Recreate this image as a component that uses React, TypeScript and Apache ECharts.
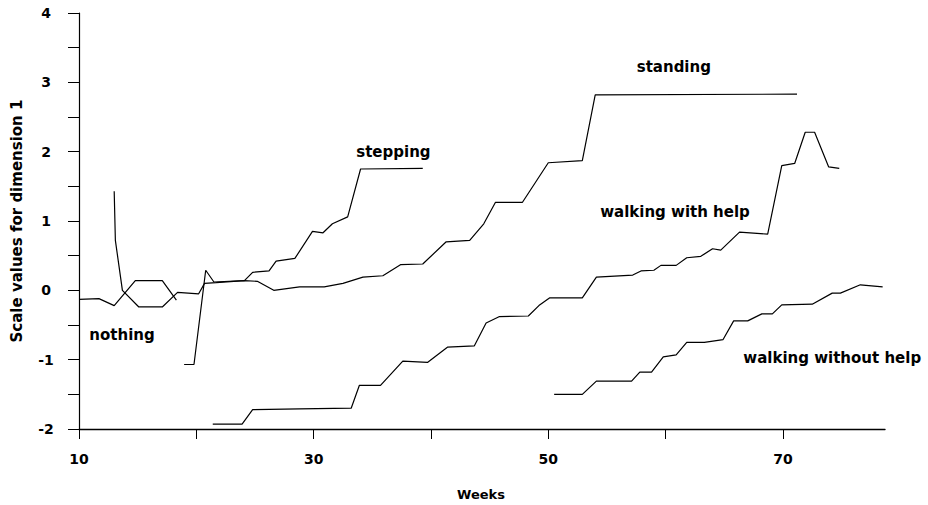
import React, { useEffect, useRef } from "react";
import * as echarts from "echarts";

// ---- data ----
const nothingWeeks = [10, 11.7, 13.0, 14.8, 17.1, 18.3];
const nothingValues = [-0.13, -0.12, -0.22, 0.14, 0.14, -0.14];

const standingWeeks = [13.0, 13.1, 13.7, 15.1, 17.1, 18.4, 20.2, 20.7, 21.7, 24.1, 25.2, 26.6, 28.8, 30.9, 32.5, 34.2, 35.9, 37.4, 39.3, 41.3, 43.3, 44.5, 45.5, 47.8, 50.0, 52.9, 54.0, 71.2];
const standingValues = [1.43, 0.72, 0.0, -0.24, -0.24, -0.03, -0.05, 0.1, 0.11, 0.14, 0.13, 0.0, 0.05, 0.05, 0.1, 0.19, 0.21, 0.37, 0.38, 0.7, 0.72, 0.96, 1.27, 1.27, 1.84, 1.87, 2.82, 2.83];

const steppingWeeks = [18.96, 19.8, 20.8, 21.5, 24.1, 24.8, 26.2, 26.8, 28.4, 29.9, 30.8, 31.6, 32.9, 34.0, 39.3];
const steppingValues = [-1.07, -1.07, 0.29, 0.12, 0.14, 0.26, 0.28, 0.42, 0.46, 0.85, 0.83, 0.96, 1.06, 1.75, 1.76];

const withHelpWeeks = [21.4, 23.9, 24.8, 28.8, 33.2, 33.9, 35.7, 37.6, 39.7, 41.4, 43.7, 44.7, 45.8, 48.3, 49.2, 50.1, 52.9, 54.1, 57.2, 57.9, 59.0, 59.6, 60.9, 61.8, 63.0, 64.0, 64.7, 66.3, 68.7, 69.9, 71.0, 71.9, 72.7, 73.9, 74.8];
const withHelpValues = [-1.93, -1.93, -1.72, -1.71, -1.7, -1.37, -1.37, -1.02, -1.04, -0.82, -0.8, -0.47, -0.38, -0.37, -0.22, -0.11, -0.11, 0.19, 0.22, 0.28, 0.29, 0.36, 0.36, 0.47, 0.49, 0.6, 0.58, 0.84, 0.81, 1.8, 1.83, 2.28, 2.28, 1.78, 1.76];

const withoutHelpWeeks = [50.5, 52.9, 54.1, 57.1, 57.8, 58.8, 59.8, 60.9, 61.8, 63.3, 64.9, 65.8, 67.0, 68.2, 69.1, 69.9, 72.5, 74.2, 74.9, 76.6, 78.5];
const withoutHelpValues = [-1.5, -1.5, -1.31, -1.31, -1.18, -1.18, -0.96, -0.93, -0.75, -0.75, -0.71, -0.44, -0.44, -0.34, -0.34, -0.21, -0.2, -0.04, -0.04, 0.08, 0.05];

const labelTexts = ["nothing", "stepping", "standing", "walking with help", "walking without help"];
const labelWeeks = [13.67, 36.8, 60.7, 60.8, 74.2];
const labelValues = [-0.65, 1.99, 3.22, 1.13, -0.98];

const xTickLabels = [10, 30, 50, 70];
const yTickLabels = [-2, -1, 0, 1, 2, 3, 4];

const zip = (xs: number[], ys: number[]) => xs.map((x, i) => [x, ys[i]]);

const FONT = "DejaVu Sans";

export default function App() {
  const ref = useRef<HTMLDivElement>(null);
  useEffect(() => {
    document.body.style.margin = "0";
    if (!ref.current) return;
    const chart = echarts.init(ref.current, null, { renderer: "svg" });
    const lineStyle = { color: "#000", width: 1.2 };
    const mkLine = (name: string, xs: number[], ys: number[]) => ({
      name,
      type: "line",
      data: zip(xs, ys),
      showSymbol: false,
      symbol: "none",
      lineStyle,
      silent: true,
    });
    chart.setOption({
      animation: false,
      backgroundColor: "#fff",
      grid: { left: 79, right: 43, top: 13, bottom: 76, containLabel: false },
      xAxis: {
        type: "value",
        min: 10,
        max: 78.7,
        interval: 10,
        splitLine: { show: false },
        axisLine: { onZero: false, lineStyle: { color: "#000", width: 1.4 } },
        axisTick: { show: true, inside: false, length: 10, lineStyle: { color: "#000", width: 1 } },
        axisLabel: {
          color: "#000",
          fontFamily: FONT,
          fontWeight: "bold",
          fontSize: 14,
          margin: 23,
          showMaxLabel: false,
          formatter: (v: number) => (xTickLabels.includes(Math.round(v)) ? String(Math.round(v)) : ""),
        },
      },
      yAxis: {
        type: "value",
        min: -2,
        max: 4,
        interval: 0.5,
        splitLine: { show: false },
        axisLine: { onZero: false, lineStyle: { color: "#000", width: 1.2 } },
        axisTick: { show: true, inside: false, length: 11, lineStyle: { color: "#000", width: 1 } },
        axisLabel: {
          color: "#000",
          fontFamily: FONT,
          fontWeight: "bold",
          fontSize: 14,
          margin: 33,
          align: "center",
          formatter: (v: number) => (Number.isInteger(v) && yTickLabels.includes(v) ? String(v) : ""),
        },
      },
      graphic: [
        {
          type: "text",
          x: 17,
          y: 221,
          rotation: Math.PI / 2,
          style: {
            text: "Scale values for dimension 1",
            fontFamily: FONT,
            fontWeight: "bold",
            fontSize: 15,
            fill: "#000",
            align: "center",
            verticalAlign: "middle",
          },
        },
        {
          type: "text",
          x: 481,
          y: 494,
          style: {
            text: "Weeks",
            fontFamily: FONT,
            fontWeight: "bold",
            fontSize: 13,
            fill: "#000",
            align: "center",
            verticalAlign: "middle",
          },
        },
      ],
      series: [
        mkLine("nothing", nothingWeeks, nothingValues),
        mkLine("standing", standingWeeks, standingValues),
        mkLine("stepping", steppingWeeks, steppingValues),
        mkLine("walking with help", withHelpWeeks, withHelpValues),
        mkLine("walking without help", withoutHelpWeeks, withoutHelpValues),
        {
          name: "labels",
          type: "scatter",
          symbolSize: 0,
          silent: true,
          data: labelWeeks.map((w, i) => ({ value: [w, labelValues[i]], name: labelTexts[i] })),
          label: {
            show: true,
            position: "inside",
            formatter: (p: any) => p.name,
            color: "#000",
            opacity: 1,
            textBorderWidth: 0,
            fontFamily: FONT,
            fontWeight: "bold",
            fontSize: 15,
          },
        },
      ],
    });
    return () => chart.dispose();
  }, []);
  return <div ref={ref} style={{ width: 928, height: 505 }} />;
}
